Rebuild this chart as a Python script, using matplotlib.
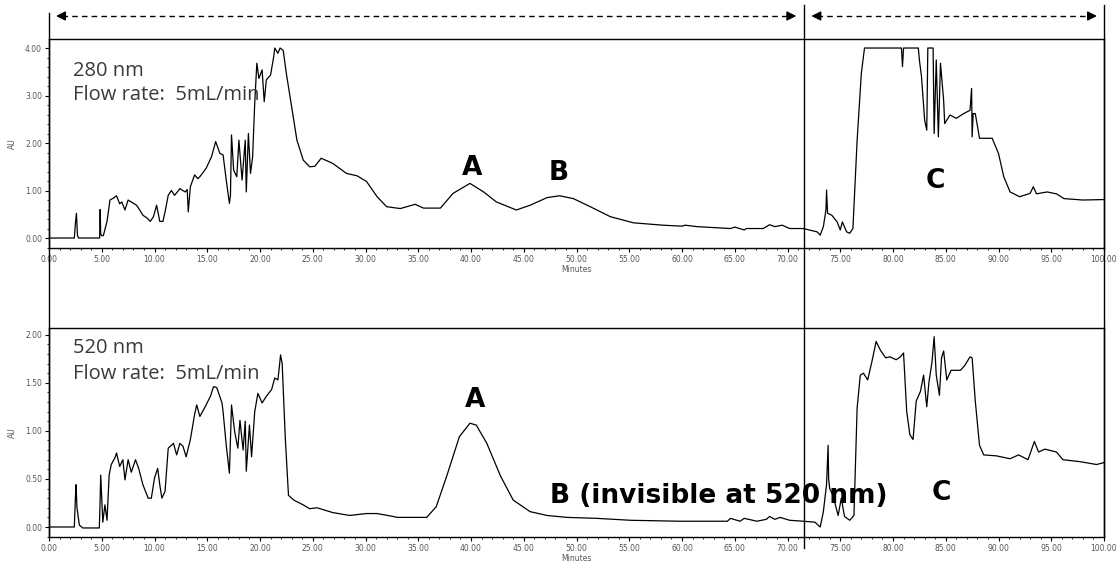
import matplotlib
matplotlib.use('Agg')
import matplotlib.pyplot as plt
from matplotlib.ticker import MultipleLocator, FormatStrFormatter

# 280 nm trace (minutes, AU)
t280 = [0, 2.4, 2.5, 2.6, 2.7, 2.8, 4.8, 4.85, 4.9, 5.0, 5.15, 5.5, 5.78, 6.1, 6.4, 6.7, 6.9, 7.2, 7.5,
        8.0, 8.3, 8.6, 8.9, 9.3, 9.6, 9.9, 10.2, 10.5, 10.8, 11.0, 11.3, 11.6, 11.9, 12.2, 12.4, 12.9,
        13.1, 13.2, 13.4, 13.8, 14.1, 14.3, 14.9, 15.4, 15.8, 16.2, 16.5, 16.8, 17.1, 17.2, 17.3, 17.5,
        17.8, 18.0, 18.3, 18.6, 18.7, 18.9, 19.1, 19.3, 19.5, 19.7, 19.9, 20.2, 20.4, 20.6, 21.0, 21.3,
        21.4, 21.7, 21.9, 22.2, 22.5, 23.0, 23.5, 24.1, 24.7, 25.2, 25.8, 26.9, 28.2, 29.2, 30.1, 31.1,
        32.0, 33.3, 34.7, 35.5, 37.1, 38.3, 39.9, 41.2, 42.4, 44.3, 45.6, 47.2, 48.4, 49.7, 51.3, 53.2,
        55.4, 58.2, 60.0, 60.3, 61.4, 64.6, 65.0, 65.9, 66.1, 67.7, 68.3, 68.8, 69.5, 70.2, 71.5, 72.8,
        73.1, 73.4, 73.65, 73.7, 73.8, 74.2, 74.7, 75.0, 75.2, 75.6, 75.9, 76.2, 76.6, 77.0, 77.3, 80.8,
        80.9, 81.0, 82.4, 82.5, 82.7, 83.0, 83.2, 83.3, 83.8, 83.9, 84.1, 84.3, 84.5, 84.8, 84.9, 85.4,
        86.0, 86.7, 87.3, 87.45, 87.5, 87.6, 87.8, 88.2, 89.4, 90.0, 90.5, 91.1, 92.0, 93.0, 93.3, 93.6,
        94.6, 95.5, 96.2, 98.0, 100]
au280 = [0.0, 0.0, 0.3, 0.52, 0.05, 0.0, 0.0, 0.6, 0.08, 0.05, 0.05, 0.35, 0.8, 0.84, 0.89, 0.72, 0.76, 0.59, 0.8,
         0.73, 0.69, 0.59, 0.48, 0.42, 0.35, 0.45, 0.69, 0.35, 0.35, 0.55, 0.9, 1.0, 0.9, 0.98, 1.04, 0.97,
         1.02, 0.55, 1.08, 1.33, 1.25, 1.29, 1.47, 1.71, 2.03, 1.78, 1.75, 1.22, 0.73, 0.9, 2.17, 1.43,
         1.29, 2.06, 1.22, 2.06, 0.97, 2.2, 1.36, 1.71, 2.84, 3.68, 3.36, 3.54, 2.87, 3.33, 3.43, 3.82,
         4.0, 3.89, 4.0, 3.95, 3.46, 2.76, 2.06, 1.64, 1.5, 1.51, 1.68, 1.57, 1.36, 1.31, 1.19, 0.87,
         0.66, 0.62, 0.71, 0.63, 0.63, 0.94, 1.15, 0.97, 0.76, 0.59, 0.69, 0.85, 0.89, 0.83, 0.66, 0.45,
         0.32, 0.27, 0.25, 0.27, 0.24, 0.2, 0.23, 0.17, 0.2, 0.2, 0.28, 0.24, 0.27, 0.2, 0.2, 0.13,
         0.06, 0.24, 0.6, 1.01, 0.52, 0.48, 0.34, 0.17, 0.34, 0.13, 0.1, 0.2, 2.06, 3.47, 4.0, 4.0,
         3.61, 4.0, 4.0, 3.75, 3.4, 2.48, 2.27, 4.0, 4.0, 2.2, 3.75, 2.13, 3.68, 2.9, 2.41, 2.59,
         2.52, 2.62, 2.69, 3.15, 2.13, 2.62, 2.62, 2.1, 2.1, 1.78, 1.29, 0.97, 0.87, 0.94, 1.08, 0.93,
         0.97, 0.93, 0.83, 0.8, 0.81]

# 520 nm trace (minutes, AU)
t520 = [0, 2.15, 2.4, 2.5, 2.56, 2.65, 2.88, 3.2, 4.77, 4.85, 4.9, 5.1, 5.3, 5.5, 5.7, 5.9, 6.25, 6.4, 6.7,
        7.0, 7.2, 7.5, 7.8, 8.2, 8.5, 8.9, 9.4, 9.7, 10.0, 10.3, 10.5, 10.7, 11.0, 11.3, 11.8, 12.1, 12.4,
        12.7, 13.0, 13.4, 13.8, 14.0, 14.3, 14.8, 15.3, 15.6, 15.9, 16.4, 16.5, 16.8, 17.1, 17.3, 17.6,
        17.9, 18.1, 18.4, 18.6, 18.7, 19.0, 19.2, 19.5, 19.8, 20.2, 20.6, 21.1, 21.4, 21.7, 21.95, 22.1,
        22.4, 22.7, 23.2, 24.1, 24.7, 25.4, 26.9, 28.5, 30.1, 31.1, 32.6, 33.0, 35.8, 36.7, 37.7, 38.9,
        39.9, 40.5, 41.5, 42.8, 44.0, 45.6, 47.2, 49.1, 51.9, 55.1, 59.8, 64.3, 64.6, 65.5, 65.9, 67.1,
        68.0, 68.3, 68.8, 69.3, 70.2, 71.5, 72.6, 73.1, 73.4, 73.7, 73.85, 73.9, 74.0, 74.3, 74.8, 75.1,
        75.4, 75.9, 76.3, 76.6, 76.9, 77.2, 77.6, 78.0, 78.4, 78.8, 79.3, 79.7, 80.3, 80.7, 81.0, 81.3,
        81.6, 81.9, 82.2, 82.6, 82.9, 83.2, 83.4, 83.7, 83.9, 84.1, 84.4, 84.6, 84.8, 85.1, 85.5, 86.4,
        86.8, 87.3, 87.5, 87.8, 88.2, 88.6, 89.8, 91.1, 91.9, 92.8, 93.4, 93.8, 94.4, 95.5, 96.1, 97.7,
        99.3, 100]
au520 = [0.0, 0.0, 0.0, 0.3, 0.44, 0.2, 0.02, -0.01, -0.01, 0.3, 0.54, 0.05, 0.23, 0.07, 0.54, 0.65, 0.72, 0.77,
         0.63, 0.7, 0.49, 0.7, 0.57, 0.7, 0.61, 0.44, 0.3, 0.3, 0.51, 0.61, 0.44, 0.3, 0.37, 0.82, 0.87, 0.75,
         0.87, 0.84, 0.73, 0.91, 1.17, 1.27, 1.15, 1.25, 1.36, 1.46, 1.45, 1.29, 1.2, 0.85, 0.56, 1.27,
         0.99, 0.82, 1.11, 0.8, 1.1, 0.58, 1.06, 0.73, 1.2, 1.39, 1.29, 1.36, 1.43, 1.55, 1.53, 1.79,
         1.7, 0.92, 0.33, 0.28, 0.23, 0.19, 0.2, 0.15, 0.12, 0.14, 0.14, 0.11, 0.1, 0.1, 0.21, 0.53, 0.94,
         1.08, 1.06, 0.87, 0.53, 0.28, 0.16, 0.12, 0.1, 0.09, 0.07, 0.06, 0.06, 0.09, 0.06, 0.09, 0.06,
         0.08, 0.11, 0.08, 0.1, 0.07, 0.06, 0.05, 0.0, 0.16, 0.44, 0.85, 0.5, 0.4, 0.33, 0.12, 0.3,
         0.11, 0.07, 0.12, 1.24, 1.58, 1.6, 1.53, 1.72, 1.93, 1.84, 1.76, 1.77, 1.74, 1.77, 1.81, 1.2,
         0.96, 0.91, 1.31, 1.41, 1.58, 1.25, 1.5, 1.72, 1.98, 1.58, 1.37, 1.76, 1.83, 1.53, 1.63, 1.63,
         1.68, 1.77, 1.76, 1.31, 0.85, 0.75, 0.74, 0.71, 0.75, 0.7, 0.89, 0.78, 0.81, 0.78, 0.7, 0.68,
         0.65, 0.67]

cut_time = 71.6  # vertical divider between fractions

W, H = 1120, 568
fig = plt.figure(figsize=(W / 100, H / 100), dpi=100)
left, right = 49 / W, 1104 / W


def px_rect(top, bottom):
    return [left, 1 - bottom / H, right - left, (bottom - top) / H]


ax1 = fig.add_axes(px_rect(39, 248))
ax2 = fig.add_axes(px_rect(328, 537))

tick_col = '#555555'
for ax in (ax1, ax2):
    ax.set_xlim(0, 100)
    ax.xaxis.set_major_locator(MultipleLocator(5))
    ax.xaxis.set_minor_locator(MultipleLocator(1))
    ax.xaxis.set_major_formatter(FormatStrFormatter('%.2f'))
    ax.yaxis.set_major_formatter(FormatStrFormatter('%.2f'))
    ax.tick_params(labelsize=5.5, labelcolor=tick_col, length=3, width=0.8, pad=2)
    ax.tick_params(which='minor', length=1.5, width=0.6)
    ax.set_xlabel('Minutes', fontsize=5.5, color=tick_col, labelpad=1)
    ax.set_ylabel('AU', fontsize=5.5, color=tick_col, labelpad=6)
    for s in ax.spines.values():
        s.set_linewidth(1.0)

ax1.plot(t280, au280, color='black', lw=0.9)
ax1.set_ylim(-0.21, 4.19)
ax1.yaxis.set_major_locator(MultipleLocator(1))
ax1.yaxis.set_minor_locator(MultipleLocator(0.2))

ax2.plot(t520, au520, color='black', lw=0.9)
ax2.set_ylim(-0.104, 2.07)
ax2.yaxis.set_major_locator(MultipleLocator(0.5))
ax2.yaxis.set_minor_locator(MultipleLocator(0.1))

fam = ['Open Sans', 'DejaVu Sans']
txt_col = '#3a3a3a'
ax1.text(2.27, 3.41, '280 nm', fontsize=14.5, color=txt_col, family=fam)
ax1.text(2.27, 2.91, 'Flow rate:  5mL/min', fontsize=14.5, color=txt_col, family=fam)
ax2.text(2.27, 1.81, '520 nm', fontsize=14.5, color=txt_col, family=fam)
ax2.text(2.27, 1.54, 'Flow rate:  5mL/min', fontsize=14.5, color=txt_col, family=fam)

bold = dict(fontsize=19, fontweight='bold', color='black', family=['DejaVu Sans'])
ax1.text(40.1, 1.33, 'A', ha='center', **bold)
ax1.text(48.3, 1.22, 'B', ha='center', **bold)
ax1.text(84.0, 1.05, 'C', ha='center', **bold)
ax2.text(40.4, 1.25, 'A', ha='center', **bold)
ax2.text(47.5, 0.25, 'B (invisible at 520 nm)', ha='left', **bold)
ax2.text(84.6, 0.28, 'C', ha='center', **bold)

# overlay for frame lines and fraction arrows
ov = fig.add_axes([left, 0, right - left, 1], zorder=5)
ov.set_xlim(0, 100)
ov.set_ylim(0, 1)
ov.axis('off')
ov.patch.set_alpha(0)
ov.plot([0, 0], [1 - 537 / H, 1 - 13 / H], color='black', lw=1.0, clip_on=False)
ov.plot([100, 100], [1 - 537 / H, 1 - 5 / H], color='black', lw=1.0, clip_on=False)
ov.plot([cut_time, cut_time], [1 - 548 / H, 1 - 5 / H], color='black', lw=1.0, clip_on=False)

ya = 1 - 16 / H
for x0, x1 in [(0.4, cut_time - 0.5), (cut_time + 0.4, 99.6)]:
    ov.plot([x0 + 0.8, x1 - 0.8], [ya, ya], color='black', lw=1.0, ls=(0, (4, 3)))
    ov.annotate('', xy=(x0, ya), xytext=(x0 + 1.0, ya),
                arrowprops=dict(arrowstyle='-|>', color='black', lw=1.0, mutation_scale=14))
    ov.annotate('', xy=(x1, ya), xytext=(x1 - 1.0, ya),
                arrowprops=dict(arrowstyle='-|>', color='black', lw=1.0, mutation_scale=14))

fig.savefig('out.png', dpi=100)
